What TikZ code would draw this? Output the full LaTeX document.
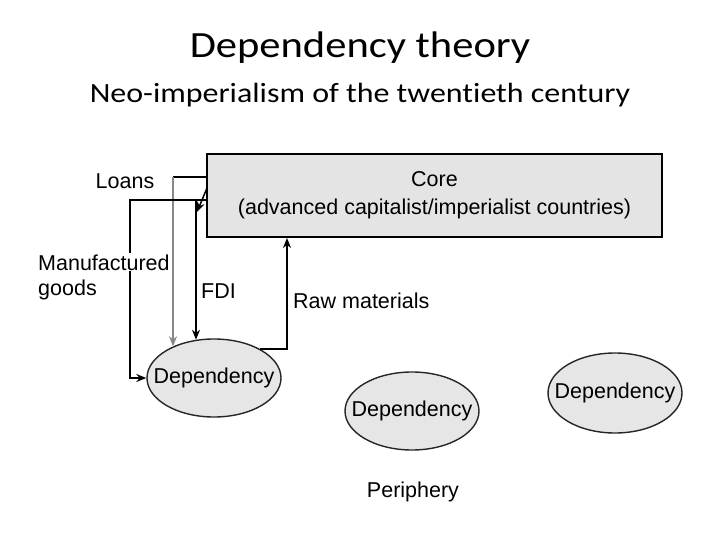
\documentclass[tikz,border=0pt]{standalone}
\usepackage{fontspec}
\setmainfont{Liberation Sans}
\newfontfamily\titlefont{Carlito}[FakeStretch=1.15,Ligatures={NoCommon}]
\newfontfamily\dfont{Liberation Sans}
\usetikzlibrary{shapes.geometric,arrows.meta}
\definecolor{boxgray}{HTML}{E4E4E4}
\definecolor{ellgray}{HTML}{E6E6E6}
\definecolor{linegray}{HTML}{888888}
\tikzset{
  dtext/.style={font=\dfont\fontsize{21.5}{28}\selectfont, text=black, inner sep=0pt},
  corebox/.style={draw=black, line width=2pt, fill=boxgray, minimum width=455pt, minimum height=83pt, align=center, dtext},
  depell/.style={ellipse, draw=black!85, line width=1.4pt, fill=ellgray, minimum width=134pt, minimum height=78pt, inner xsep=-17pt, inner ysep=0pt, font=\dfont\fontsize{21.5}{24}\selectfont},
  conn/.style={line width=2pt, draw=black},
  tip/.style={-{Stealth[length=10pt,width=8pt]}},
}
\begin{document}
\begin{tikzpicture}[x=1pt,y=-1pt]
\useasboundingbox (0,0) rectangle (720,540);
% titles
\node[font=\titlefont\fontsize{37}{40}\selectfont, anchor=base, inner sep=0pt] (title) at (360,58) {Dependency theory};
\node[font=\titlefont\fontsize{27.8}{32}\selectfont, anchor=base, inner sep=0pt] (subtitle) at (360,103) {Neo-imperialism of the twentieth century};
% core
\node[corebox] (core) at (434.5,195.5) {Core\\(advanced capitalist/imperialist countries)};
% dependencies
\node[depell] (d1) at (214,378) {Dependency};
\node[depell] (d2) at (412,411) {Dependency};
\node[depell, minimum height=80pt] (d3) at (615,393) {Dependency};
% helper coordinates
\coordinate (lx) at (173,177);
\coordinate (mx) at (130,200);
\coordinate (fx) at (196,200);
\coordinate (fa) at (207,188);
\coordinate (fb) at (197,212);
\coordinate (rx) at (287,0);
% Loans
\draw[conn] (core.west |- lx) -- (lx);
\draw[conn, draw=linegray, line width=2.4pt, tip] (lx) -- (lx |- d1.142);
% Manufactured goods
\draw[conn, tip] (core.west |- mx) -- (mx) |- (d1.west);
% FDI
\draw[conn, line width=1.5pt, tip] (fa) -- (fb);
\draw[conn, line width=1.5pt, tip] (fx) -- (fx |- d1.115);
% Raw materials
\draw[conn, tip] (d1.32) -| (core.south -| rx);
% labels
\node[dtext, anchor=base] (loans) at (125,189) {Loans};
\node[dtext, anchor=base west, fill=white, inner sep=1pt] (manu) at (37,270) {Manufactured};
\node[dtext, anchor=base west] (goods) at (38,295) {goods};
\node[dtext, anchor=base west] (fdi) at (201,298) {FDI};
\node[dtext, anchor=base west] (raw) at (293,308) {Raw materials};
\node[dtext, anchor=base] (periph) at (413,497) {Periphery};
\end{tikzpicture}
\end{document}
